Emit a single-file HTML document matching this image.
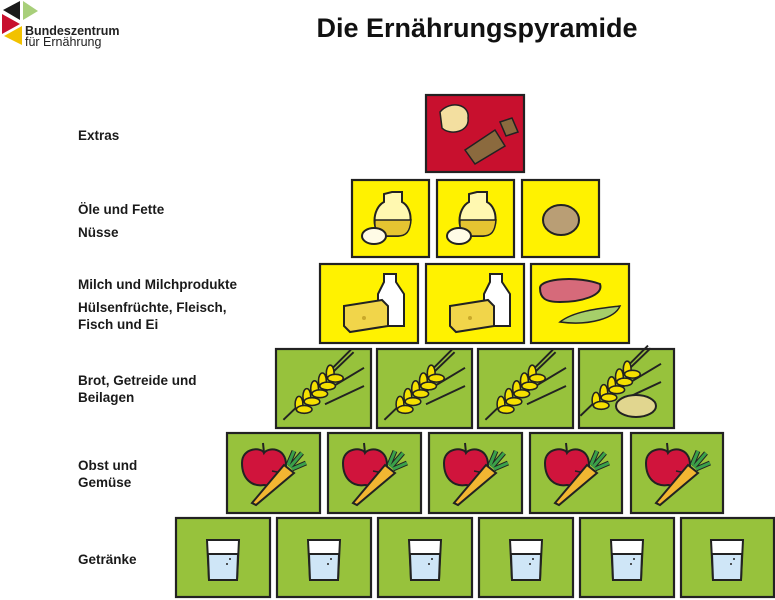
<!DOCTYPE html>
<html><head><meta charset="utf-8"><style>
html,body{margin:0;padding:0;background:#fff;width:775px;height:600px;overflow:hidden}
</style></head><body>
<svg width="775" height="600" viewBox="0 0 775 600" xmlns="http://www.w3.org/2000/svg" font-family="'Liberation Sans', sans-serif">
<defs>
<g id="glass"><path d="M-16,-20 L16,-20 L14,20 L-14,20 Z" fill="#fff" stroke="#222" stroke-width="2"/><path d="M-15,-6 L15,-6 L14,20 L-14,20 Z" fill="#cfe6f7" stroke="#222" stroke-width="2"/><circle cx="7" cy="-1" r="1" fill="#222"/><circle cx="4" cy="4" r="1" fill="#222"/></g>
<g id="fruit"><path d="M-30,-12 C-30,-28 -10,-28 -8,-22 C-4,-28 14,-28 14,-10 C14,8 2,12 -8,10 C-20,12 -30,4 -30,-12Z" fill="#d0143c" stroke="#222" stroke-width="2"/><path d="M-8,-22 L-9,-32" stroke="#222" stroke-width="2"/><path d="M0,-4 L10,-2" stroke="#222" stroke-width="1.5"/><path d="M18,-8 L30,-22 M20,-6 L34,-12 M16,-10 L22,-24" stroke="#222" stroke-width="5"/><path d="M18,-8 L30,-22 M20,-6 L34,-12 M16,-10 L22,-24" stroke="#3aa049" stroke-width="3"/><path d="M12,-10 L22,-2 L-16,30 L-20,28 Z" fill="#f2b632" stroke="#222" stroke-width="2"/></g>
<g id="grain0"><path d="M-32,26 L22,-26 M-10,10 L30,-14 M-4,-4 L20,-28 M0,14 L30,0" stroke="#222" stroke-width="1.5"/><g fill="#f5e000" stroke="#222" stroke-width="1.2"><ellipse cx="-20" cy="14" rx="3" ry="6"/><ellipse cx="-14" cy="8" rx="3" ry="6"/><ellipse cx="-8" cy="2" rx="3" ry="6"/><ellipse cx="-2" cy="-4" rx="3" ry="6"/><ellipse cx="4" cy="-10" rx="3" ry="6"/><ellipse cx="-16" cy="18" rx="6" ry="3"/><ellipse cx="-10" cy="12" rx="6" ry="3"/><ellipse cx="-4" cy="6" rx="6" ry="3"/><ellipse cx="2" cy="0" rx="6" ry="3"/><ellipse cx="8" cy="-6" rx="6" ry="3"/></g></g>
<g id="grain"><use href="#grain0" transform="scale(1.3)"/></g>
<g id="milk"><path d="M14,-30 L26,-30 L26,-22 L34,-10 L34,22 L8,22 L8,-10 L14,-22Z" fill="#fff" stroke="#222" stroke-width="2"/><path d="M-26,2 L12,-4 L18,2 L18,22 L-20,28 L-26,22Z" fill="#f1d54a" stroke="#222" stroke-width="2"/><circle cx="-6" cy="14" r="2" fill="#c9a92a"/></g>
<g id="oil"><path d="M0,-30 L10,-30 L10,-20 C22,-14 22,12 6,14 L-6,14 C-22,12 -20,-14 -8,-20 L-8,-28Z" fill="#fff8b0" stroke="#222" stroke-width="2"/><path d="M-17,-2 L19,-2 C18,10 14,14 6,14 L-6,14 C-14,14 -18,8 -17,-2Z" fill="#e6c431" stroke="#222" stroke-width="1.5"/><ellipse cx="-18" cy="14" rx="12" ry="8" fill="#fffbe6" stroke="#222" stroke-width="2"/></g>
</defs>
<!-- logo -->
<polygon points="3,10 20,1 20,20" fill="#1a1a1a"/><polygon points="23,1 38,11 23,20" fill="#a8cf7a"/><polygon points="2,14 20,24 2,34" fill="#c8102e"/><polygon points="4,36 22,26 22,45" fill="#f2c200"/>
<text x="25" y="35" font-size="12.5" font-weight="bold" fill="#222">Bundeszentrum</text>
<text x="25" y="46" font-size="12.5" fill="#222">für Ernährung</text>
<text x="477" y="37" font-size="27" font-weight="bold" text-anchor="middle" fill="#111">Die Ernährungspyramide</text>
<g font-size="13.5" font-weight="bold" fill="#1a1a1a">
<text x="78" y="140">Extras</text>
<text x="78" y="214">Öle und Fette</text><text x="78" y="237">Nüsse</text>
<text x="78" y="289">Milch und Milchprodukte</text><text x="78" y="312">Hülsenfrüchte, Fleisch,</text><text x="78" y="329">Fisch und Ei</text>
<text x="78" y="385">Brot, Getreide und</text><text x="78" y="402">Beilagen</text>
<text x="78" y="470">Obst und</text><text x="78" y="487">Gemüse</text>
<text x="78" y="564">Getränke</text>
</g>
<g stroke="#222" stroke-width="2.2">
<rect x="426" y="95" width="98" height="77" fill="#c8102e"/>
<rect x="352" y="180" width="77" height="77" fill="#fff200"/><rect x="437" y="180" width="77" height="77" fill="#fff200"/><rect x="522" y="180" width="77" height="77" fill="#fff200"/>
<rect x="320" y="264" width="98" height="79" fill="#fff200"/><rect x="426" y="264" width="98" height="79" fill="#fff200"/><rect x="531" y="264" width="98" height="79" fill="#fff200"/>
<g fill="#97c23c">
<rect x="276" y="349" width="95" height="79"/><rect x="377" y="349" width="95" height="79"/><rect x="478" y="349" width="95" height="79"/><rect x="579" y="349" width="95" height="79"/>
<rect x="227" y="433" width="93" height="80"/><rect x="328" y="433" width="93" height="80"/><rect x="429" y="433" width="93" height="80"/><rect x="530" y="433" width="92" height="80"/><rect x="631" y="433" width="92" height="80"/>
<rect x="176" y="518" width="94" height="79"/><rect x="277" y="518" width="94" height="79"/><rect x="378" y="518" width="94" height="79"/><rect x="479" y="518" width="94" height="79"/><rect x="580" y="518" width="94" height="79"/><rect x="681" y="518" width="93" height="79"/>
</g></g>
<!-- extras icons -->
<path d="M440,112 C450,100 470,104 468,118 C470,132 450,136 442,128Z" fill="#f3dfa0" stroke="#222" stroke-width="1.5"/>
<path d="M465,150 L495,130 L505,146 L475,164Z" fill="#8b6a3e" stroke="#222" stroke-width="1.5"/>
<path d="M500,122 L512,118 L518,132 L506,136Z" fill="#8b6a3e" stroke="#222" stroke-width="1.5"/>
<use href="#oil" x="392" y="222"/><use href="#oil" x="477" y="222"/>
<ellipse cx="561" cy="220" rx="18" ry="15" fill="#b99e75" stroke="#222" stroke-width="2"/>
<use href="#milk" x="370" y="304"/><use href="#milk" x="476" y="304"/>
<path d="M540,288 C540,278 580,276 600,284 C604,296 580,302 560,302 C545,302 540,298 540,288Z" fill="#d66a7a" stroke="#222" stroke-width="2"/>
<path d="M560,322 C575,310 605,308 620,306 C615,318 590,326 560,322Z" fill="#a6cf6a" stroke="#222" stroke-width="1.5"/>
<g><use href="#grain" x="325" y="386"/><use href="#grain" x="426" y="386"/><use href="#grain" x="527" y="386"/><use href="#grain" x="622" y="382"/></g>
<ellipse cx="636" cy="406" rx="20" ry="11" fill="#e1d68f" stroke="#222" stroke-width="2"/>
<use href="#fruit" x="272" y="475"/><use href="#fruit" x="373" y="475"/><use href="#fruit" x="474" y="475"/><use href="#fruit" x="575" y="475"/><use href="#fruit" x="676" y="475"/>
<use href="#glass" x="223" y="560"/><use href="#glass" x="324" y="560"/><use href="#glass" x="425" y="560"/><use href="#glass" x="526" y="560"/><use href="#glass" x="627" y="560"/><use href="#glass" x="727" y="560"/>
</svg>
</body></html>
